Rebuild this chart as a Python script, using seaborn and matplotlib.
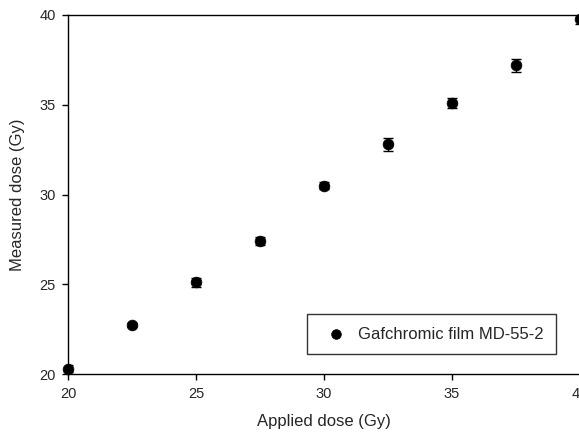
import matplotlib
matplotlib.use("Agg")
import pandas as pd
import seaborn as sns
import matplotlib.pyplot as plt

applied = [20, 22.5, 25, 27.5, 30, 32.5, 35, 37.5, 40]
measured = [20.3, 22.73, 25.1, 27.4, 30.5, 32.8, 35.1, 37.2, 39.8]
err = [0.2, 0.1, 0.25, 0.22, 0.18, 0.35, 0.3, 0.35, 0.3]
label = "Gafchromic film MD-55-2"

df = pd.DataFrame({"applied": applied, "measured": measured, "err": err})

sns.set_style("ticks")
plt.rcParams['font.family'] = ['Liberation Sans', 'DejaVu Sans']

fig = plt.figure(figsize=(5.79, 4.34), dpi=100)
ax = fig.add_axes([68 / 579, 1 - 374 / 434, 512 / 579, 359 / 434])

ax.errorbar(df["applied"], df["measured"], yerr=df["err"], fmt="none",
            ecolor="black", elinewidth=1, capsize=3.3, capthick=1, zorder=2)
sns.scatterplot(data=df, x="applied", y="measured", ax=ax, color="black",
                s=60, edgecolor="black", linewidth=0.5, label=label, zorder=3,
                clip_on=False)

ax.set_xlim(20, 40)
ax.set_ylim(20, 40)
ax.set_xticks([20, 25, 30, 35, 40])
ax.set_yticks([20, 25, 30, 35, 40])
ax.set_xlabel("Applied dose (Gy)", fontsize=12, labelpad=10)
ax.set_ylabel("Measured dose (Gy)", fontsize=12, labelpad=10)
ax.tick_params(labelsize=10.5, direction="out", length=4, width=1, color="black", pad=5)
for s in ax.spines.values():
    s.set_color("black")
    s.set_linewidth(1)

leg = ax.legend(loc="lower right", bbox_to_anchor=(0.953, 0.055), fontsize=12,
                frameon=True, fancybox=False, borderpad=0.75, handletextpad=0.3,
                borderaxespad=0, markerscale=0.9, handlelength=2.0)
leg.get_frame().set_edgecolor("black")
leg.get_frame().set_linewidth(1)

fig.savefig("out.png", dpi=100)
